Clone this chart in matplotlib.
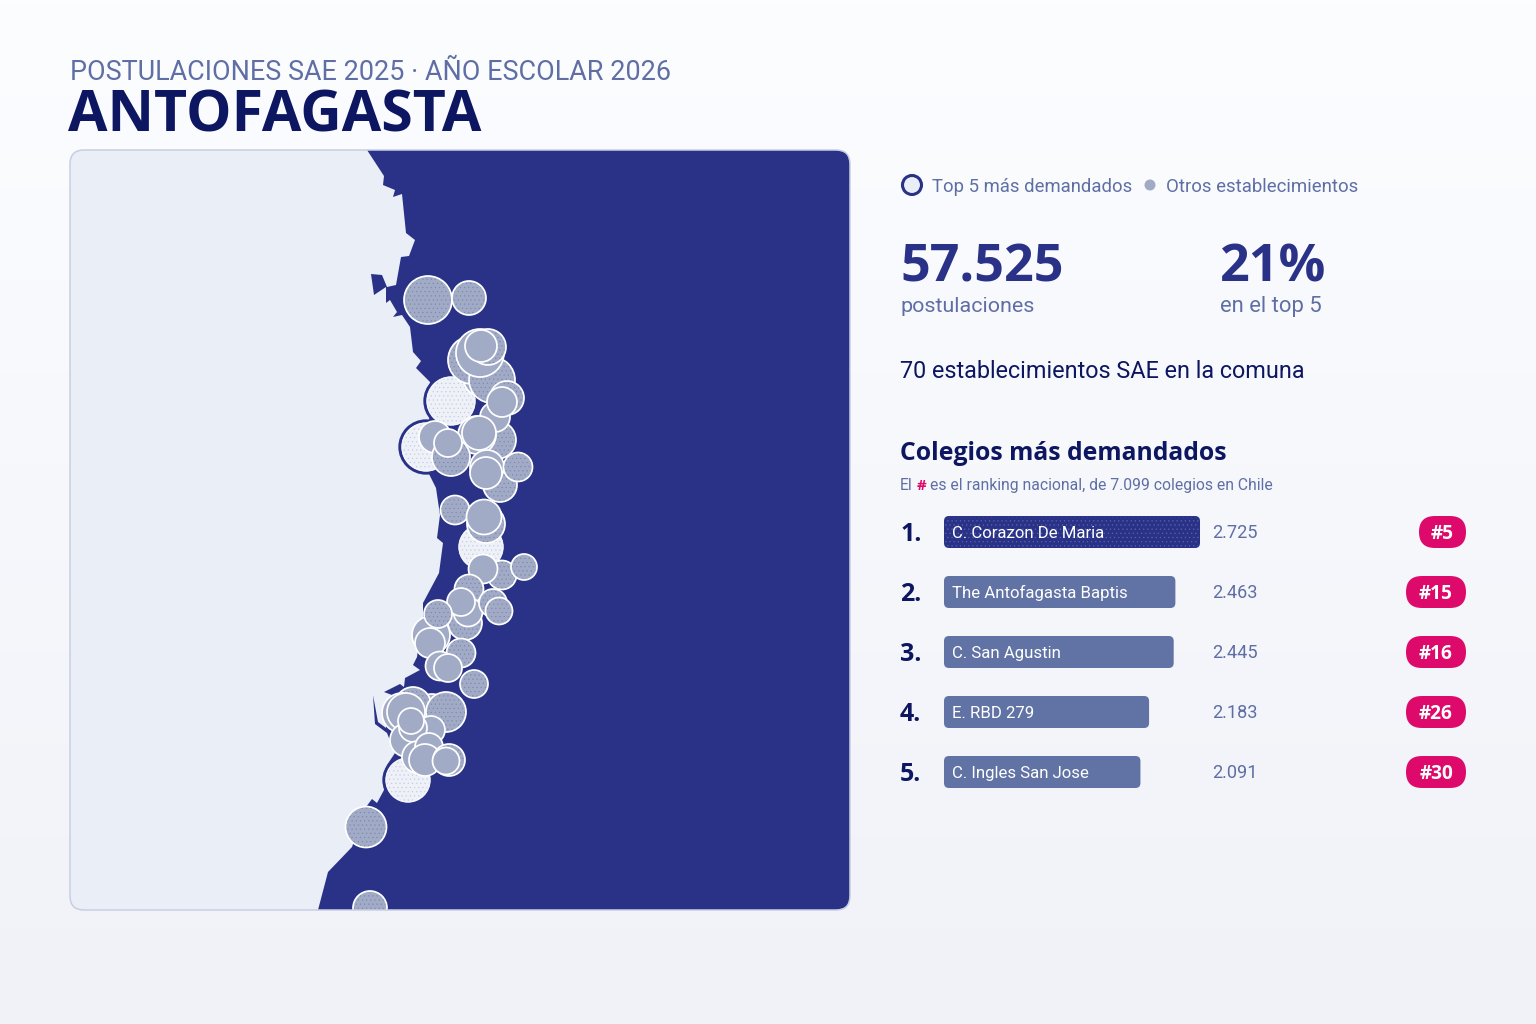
import matplotlib
matplotlib.use("Agg")
import matplotlib.pyplot as plt
from matplotlib.patches import Circle, FancyBboxPatch, Polygon
import numpy as np

plt.rcParams["font.family"] = ["Roboto", "Open Sans", "DejaVu Sans"]
plt.rcParams["hatch.linewidth"] = 0.4
BOLD = ["Open Sans", "DejaVu Sans"]

NAVY = "#0d1660"
BLUE = "#2a3288"
MUTED = "#5f6fa5"
LAND = "#e9eef7"
GREY = "#a2abc6"
PINK = "#dd0a6b"

# schools: x, y, radius in map pixels
top_x = [451, 426, 481, 408]
top_y = [401, 447, 547, 780]
top_r = [25, 25, 23, 23]

otros_x = [428, 469, 483, 472, 492, 480, 488, 481, 497, 495, 507, 502, 477, 479, 435,
           451, 448, 500, 487, 486, 518, 455, 486, 484, 502, 483, 524, 469, 465, 468, 461,
           493, 499, 431, 438, 430, 461, 440, 448, 474, 432, 413, 402, 406, 446,
           407, 431, 413, 411, 418, 429, 425, 449, 446, 366, 370]
otros_y = [300, 298, 377, 360, 380, 353, 347, 346, 440, 417, 398, 402, 435, 433, 437,
           457, 443, 485, 467, 473, 467, 510, 524, 517, 575, 569, 567, 589, 623, 612, 602,
           603, 611, 635, 614, 643, 653, 666, 668, 684, 712, 705, 713, 712, 712,
           740, 730, 728, 721, 757, 747, 760, 760, 761, 827, 908]
otros_r = [24, 17, 20, 24, 23, 24, 18, 16, 19, 15, 17, 15, 19, 17, 16,
           19, 14, 17, 17, 16, 14.5, 14.5, 19, 17.5, 14.5, 14.5, 13, 14.5, 17, 14.5, 14,
           14, 13.5, 19, 14, 15, 14.5, 14.5, 14, 14, 18, 18, 20, 19, 20,
           17, 14, 14, 13, 16, 14, 16, 16, 13.5, 20.5, 17]
otros_punteado = [1, 1, 0, 1, 1, 0, 1, 0, 1, 0, 1, 0, 0, 0, 0,
                  1, 0, 1, 0, 0, 1, 1, 1, 0, 1, 0, 1, 1, 1, 0, 0,
                  1, 1, 0, 1, 0, 1, 0, 0, 1, 0, 1, 0, 0, 1,
                  0, 0, 0, 0, 0, 0, 0, 1, 0, 1, 1]

# land outline, following the coast from north to south
costa_x = [70, 367, 384, 383, 395, 393, 402, 406, 415, 409, 401, 396, 387, 382, 371, 374,
           386, 386, 390, 397, 393, 402, 410, 413, 421, 416, 430, 428, 436, 440, 437, 443,
           439, 423, 423, 417, 413, 420, 405, 404, 400, 384, 392, 386, 386, 378, 373, 375, 387, 395, 387,
           383, 384, 377, 372, 366, 352, 328, 318, 70]
costa_y = [150, 150, 176, 185, 190, 197, 194, 233, 240, 256, 257, 285, 287, 275, 274, 295,
           287, 303, 300, 312, 317, 315, 327, 352, 361, 368, 382, 472, 488, 515, 538, 543,
           573, 603, 617, 657, 665, 670, 678, 687, 684, 692, 695, 712, 728, 722, 695, 724, 733, 753, 765,
           777, 790, 803, 799, 807, 847, 872, 910, 910]

# ranking
colegios = ["C. Corazon De Maria", "The Antofagasta Baptis", "C. San Agustin", "E. RBD 279", "C. Ingles San Jose"]
postulaciones = [2725, 2463, 2445, 2183, 2091]
ranking = [5, 15, 16, 26, 30]


def px(size):
    return size * 0.72


def miles(v):
    return f"{v:,}".replace(",", ".")


fig = plt.figure(figsize=(15.36, 10.24), dpi=100)
ax = fig.add_axes([0, 0, 1, 1])
ax.axis("off")

gradient = np.linspace(0, 1, 256).reshape(-1, 1)
top_col = np.array([252, 253, 255]) / 255
bot_col = np.array([240, 242, 248]) / 255
ax.imshow(top_col + gradient[..., None] * (bot_col - top_col), extent=(0, 1536, 1024, 0), aspect="auto", zorder=0)
ax.set_xlim(0, 1536)
ax.set_ylim(1024, 0)

ax.text(70, 80, "POSTULACIONES SAE 2025 · AÑO ESCOLAR 2026", fontsize=px(27), color=MUTED, va="baseline")
ax.text(68, 132, "ANTOFAGASTA", fontsize=px(57.3), color=NAVY, family=BOLD, fontweight="bold", va="baseline")

# map
panel = FancyBboxPatch((70, 150), 780, 760, boxstyle="round,pad=0,rounding_size=14",
                       facecolor=BLUE, edgecolor="none", zorder=1)
ax.add_patch(panel)
land = Polygon(np.column_stack([costa_x, costa_y]), closed=True, facecolor=LAND, edgecolor="none", zorder=2)
ax.add_patch(land)
land.set_clip_path(panel)


def draw_circle(x, y, r, face, edge, lw, dots=None):
    c = Circle((x, y), r, facecolor=face, edgecolor=edge, linewidth=lw, zorder=3)
    ax.add_patch(c)
    c.set_clip_path(panel)
    if dots:
        d = Circle((x, y), r - 1, facecolor="none", edgecolor=dots, linewidth=0, hatch="....", zorder=3)
        ax.add_patch(d)
        d.set_clip_path(panel)


for x, y, r in zip(top_x, top_y, top_r):
    draw_circle(x, y, r + 1, LAND, BLUE, 2.4)
    draw_circle(x, y, r - 1, "#eef1f8", "#f4f6fb", 1, dots="#c5cde2")
for x, y, r, p in zip(otros_x, otros_y, otros_r, otros_punteado):
    draw_circle(x, y, r, GREY, "white", 1.25, dots="#7f8ab3" if p else None)

border = FancyBboxPatch((70, 150), 780, 760, boxstyle="round,pad=0,rounding_size=14",
                        facecolor="none", edgecolor="#c9cfe3", linewidth=1.1, zorder=4)
ax.add_patch(border)

# legend
ax.add_patch(Circle((912, 185), 9.5, facecolor=LAND, edgecolor=BLUE, linewidth=2.2))
ax.text(932, 192, "Top 5 más demandados", fontsize=px(18.5), color=MUTED, va="baseline")
ax.add_patch(Circle((1150, 185), 5.5, facecolor=GREY, edgecolor="none"))
ax.text(1166, 192, "Otros establecimientos", fontsize=px(18.7), color=MUTED, va="baseline")

# kpis
ax.text(900, 281, "57.525", fontsize=px(52), color=BLUE, family=BOLD, fontweight="bold", va="baseline")
ax.text(900, 312, "postulaciones", fontsize=px(21.5), color=MUTED, va="baseline")
ax.text(1220, 281, "21%", fontsize=px(52), color=BLUE, family=BOLD, fontweight="bold", va="baseline")
ax.text(1220, 312, "en el top 5", fontsize=px(22), color=MUTED, va="baseline")
ax.text(900, 378, "70 establecimientos SAE en la comuna", fontsize=px(23.4), color=NAVY, va="baseline")

ax.text(900, 460, "Colegios más demandados", fontsize=px(24.7), color=NAVY, family=BOLD, fontweight="bold", va="baseline")
ax.text(900, 490, "El", fontsize=px(15.8), color=MUTED, va="baseline")
ax.text(917, 490, "#", fontsize=px(15), color=PINK, family=BOLD, fontweight="bold", va="baseline")
ax.text(930, 490, "es el ranking nacional, de 7.099 colegios en Chile", fontsize=px(15.8), color=MUTED, va="baseline")

# rows
scale = 256 / max(postulaciones)
for i, (name, val, rk) in enumerate(zip(colegios, postulaciones, ranking)):
    y = 532 + 60 * i
    ax.text(900, y + 9, f"{i + 1}.", fontsize=px(25), color=NAVY, family=BOLD, fontweight="bold", va="baseline")
    bar_col = BLUE if i == 0 else "#6172a5"
    bar = FancyBboxPatch((944, y - 16), val * scale, 32, boxstyle="round,pad=0,rounding_size=5",
                         facecolor=bar_col, edgecolor="none", zorder=2)
    ax.add_patch(bar)
    if i == 0:
        ax.add_patch(FancyBboxPatch((945, y - 15), val * scale - 2, 30, boxstyle="round,pad=0,rounding_size=5",
                                    facecolor="none", edgecolor="#5a63a8", linewidth=0, hatch="....", zorder=2))
    ax.text(952, y + 6, name, fontsize=px(16.8), color="white", va="baseline", zorder=3)
    ax.text(1212, y + 6, miles(val), fontsize=px(18.2), color=MUTED, va="baseline")
    w = 47 if rk < 10 else 60
    ax.add_patch(FancyBboxPatch((1466 - w, y - 16), w, 32, boxstyle="round,pad=0,rounding_size=16",
                                facecolor=PINK, edgecolor="none", zorder=2))
    ax.text(1466 - w / 2, y + 7, f"#{rk}", fontsize=px(19), color="white", family=BOLD, fontweight="bold",
            ha="center", va="baseline", zorder=3)

fig.savefig("out.png", dpi=100)
plt.close(fig)
